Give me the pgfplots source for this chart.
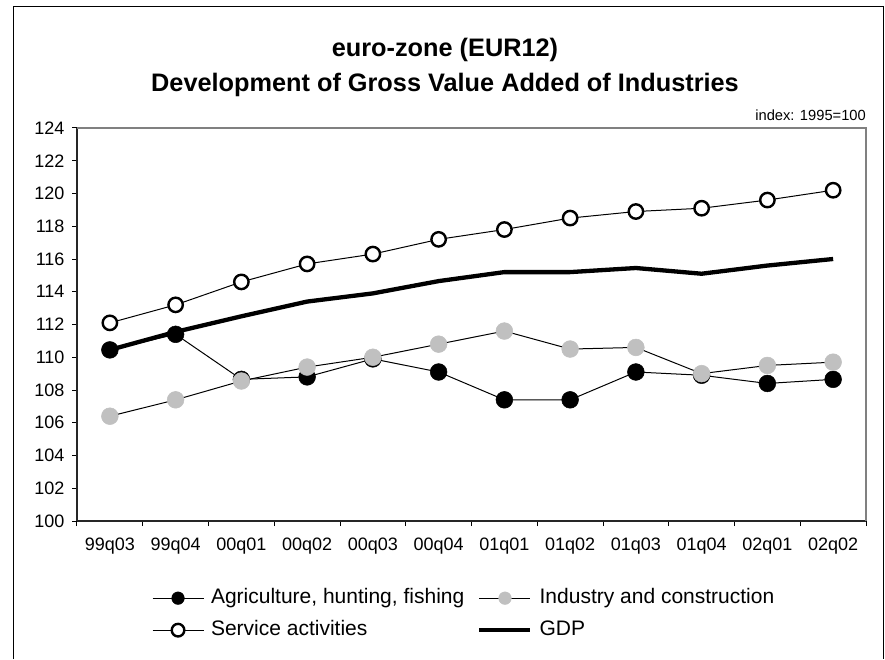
\documentclass[border=0pt]{standalone}
\usepackage{pgfplots}
\pgfplotsset{compat=1.18}
\usepackage{fontspec}
\setmainfont{Liberation Sans}
\definecolor{silver}{RGB}{192,192,192}
\definecolor{frameg}{RGB}{128,128,128}
\begin{document}
\begin{tikzpicture}
\useasboundingbox (0pt,0pt) rectangle (885pt,659pt);
\fill[white] (0pt,0pt) rectangle (885pt,659pt);
\draw[black, line width=1pt] (13pt,0pt) -- (13pt,652pt) -- (883pt,652pt) -- (883pt,0pt);
\node[anchor=base, font=\fontsize{25.3}{29}\selectfont\bfseries, inner sep=0pt] at (445pt,602pt) {euro-zone (EUR12)};
\node[anchor=base, font=\fontsize{25.3}{29}\selectfont\bfseries, inner sep=0pt] at (445pt,567pt) {Development of Gross Value Added of Industries};
\node[anchor=base east, font=\fontsize{14.7}{17}\selectfont, inner sep=0pt] at (866pt,538pt) {index: 1995=100};
\begin{axis}[
  at={(77pt,138pt)}, anchor=south west,
  scale only axis, width=789pt, height=393pt,
  xmin=-0.5, xmax=11.5, ymin=100, ymax=124,
  axis x line*=bottom, axis y line*=left,
  axis line style={-, line width=1.5pt, black!85},
  ytick={100,102,...,124},
  xtick={0,...,11},
  xticklabels={99q03,99q04,00q01,00q02,00q03,00q04,01q01,01q02,01q03,01q04,02q01,02q02},
  minor xtick={-0.5,0.5,...,11.5},
  tick align=outside,
  major tick length=5pt, minor tick length=5pt,
  major x tick style={draw=none},
  tick style={black, line width=1pt},
  /pgf/number format/assume math mode=true,
  ticklabel style={font=\fontsize{18}{18}\selectfont},
  yticklabel style={xshift=-4pt},
  xticklabel style={yshift=-8pt},
  clip=false,
  legend columns=2,
  legend cell align=left,
  legend style={draw=none, fill=none, inner sep=0pt, outer sep=0pt,
    at={(axis description cs:0.0951,-0.169)}, anchor=north west,
    font=\fontsize{21}{21}\selectfont,
    nodes={inner sep=1pt, text height=15pt, text depth=4.5pt},
    column sep=6pt, row sep=10.5pt,
    /tikz/every even column/.append style={column sep=12pt}},
  legend image code/.code={\draw[#1, mark size=6.3pt, mark repeat=2, mark phase=2] plot coordinates {(0pt,0pt) (25.5pt,0pt) (51pt,0pt)};},
]
\addplot[black, line width=1pt, mark=*, mark size=8.4pt, mark options={solid, fill=black, draw=black, line width=0.5pt}] coordinates {
(0,110.45) (1,111.4) (2,108.65) (3,108.8) (4,109.9) (5,109.1) (6,107.4) (7,107.4) (8,109.1) (9,108.9) (10,108.4) (11,108.65)};
\addlegendentry{Agriculture, hunting, fishing}
\addplot[black, line width=1pt, mark=*, mark size=8.4pt, mark options={solid, fill=silver, draw=silver, line width=0.5pt}] coordinates {
(0,106.4) (1,107.4) (2,108.55) (3,109.4) (4,110.0) (5,110.8) (6,111.6) (7,110.5) (8,110.6) (9,109.0) (10,109.5) (11,109.7)};
\addlegendentry{Industry and construction}
\addplot[black, line width=1pt, mark=*, mark size=7.2pt, mark options={solid, fill=white, draw=black, line width=2.4pt}] coordinates {
(0,112.1) (1,113.2) (2,114.6) (3,115.7) (4,116.3) (5,117.2) (6,117.8) (7,118.5) (8,118.9) (9,119.1) (10,119.6) (11,120.2)};
\addlegendentry{Service activities}
\addplot[black, line width=4.3pt, no marks] coordinates {
(0,110.45) (1,111.55) (2,112.5) (3,113.4) (4,113.9) (5,114.65) (6,115.2) (7,115.2) (8,115.45) (9,115.1) (10,115.6) (11,116.0)};
\addlegendentry{GDP}
\draw[frameg, line width=1.5pt] (rel axis cs:0,1) -- (rel axis cs:1,1) -- (rel axis cs:1,0);
\end{axis}
\end{tikzpicture}
\end{document}
